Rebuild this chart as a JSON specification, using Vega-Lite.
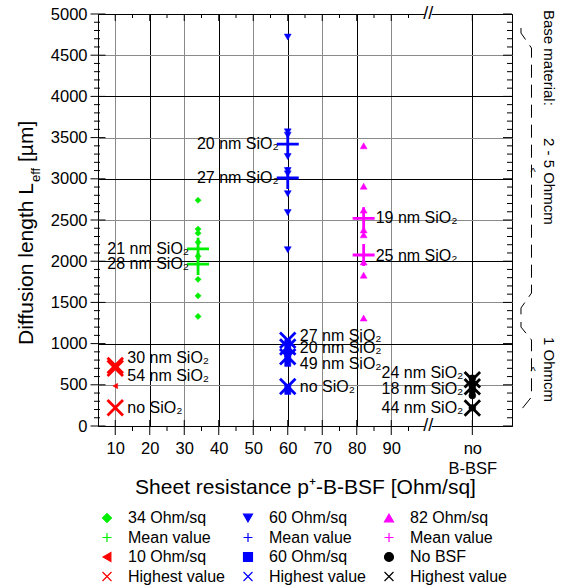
{
  "$schema": "https://vega.github.io/schema/vega-lite/v6.json",
  "width": 414,
  "height": 412,
  "autosize": {"type": "none"},
  "padding": {"left": 98, "top": 14, "right": 58, "bottom": 162},
  "background": "white",
  "config": {
    "view": {"stroke": "#000000", "strokeWidth": 1},
    "font": "Liberation Sans",
    "text": {"font": "Liberation Sans", "color": "#000000"},
    "axis": {"labelFont": "Liberation Sans", "titleFont": "Liberation Sans", "labelColor": "#000000", "titleColor": "#000000"}
  },
  "datasets": {
    "pts": [
      {"x": 34, "y": 2740, "series": "g34"}, {"x": 34, "y": 2390, "series": "g34"}, {"x": 34, "y": 2340, "series": "g34"},
      {"x": 34, "y": 2230, "series": "g34"}, {"x": 34, "y": 2060, "series": "g34"}, {"x": 34, "y": 1780, "series": "g34"},
      {"x": 34, "y": 1580, "series": "g34"}, {"x": 34, "y": 1330, "series": "g34"},
      {"x": 60, "y": 4720, "series": "b60"}, {"x": 60, "y": 3570, "series": "b60"}, {"x": 60, "y": 3530, "series": "b60"},
      {"x": 60, "y": 3270, "series": "b60"}, {"x": 60, "y": 3100, "series": "b60"}, {"x": 60, "y": 3060, "series": "b60"},
      {"x": 60, "y": 2820, "series": "b60"}, {"x": 60, "y": 2590, "series": "b60"}, {"x": 60, "y": 2140, "series": "b60"},
      {"x": 82, "y": 3400, "series": "m82"}, {"x": 82, "y": 2910, "series": "m82"}, {"x": 82, "y": 2620, "series": "m82"},
      {"x": 82, "y": 2380, "series": "m82"}, {"x": 82, "y": 2320, "series": "m82"}, {"x": 82, "y": 1990, "series": "m82"},
      {"x": 82, "y": 1830, "series": "m82"}, {"x": 82, "y": 1310, "series": "m82"},
      {"x": 10, "y": 485, "series": "r10"},
      {"x": 60, "y": 1010, "series": "bsq"}, {"x": 60, "y": 940, "series": "bsq"}, {"x": 60, "y": 880, "series": "bsq"},
      {"x": 60, "y": 820, "series": "bsq"}, {"x": 60, "y": 760, "series": "bsq"}, {"x": 60, "y": 470, "series": "bsq"},
      {"x": 60, "y": 420, "series": "bsq"},
      {"x": 113.5, "y": 580, "series": "knobsf"}, {"x": 113.5, "y": 520, "series": "knobsf"}, {"x": 113.5, "y": 480, "series": "knobsf"},
      {"x": 113.5, "y": 430, "series": "knobsf"}, {"x": 113.5, "y": 370, "series": "knobsf"}, {"x": 113.5, "y": 220, "series": "knobsf"},
      {"x": 34, "y": 2150, "series": "gmean"}, {"x": 34, "y": 1965, "series": "gmean"},
      {"x": 60, "y": 3420, "series": "bmean"}, {"x": 60, "y": 3010, "series": "bmean"},
      {"x": 82, "y": 2520, "series": "mmean"}, {"x": 82, "y": 2075, "series": "mmean"},
      {"x": 10, "y": 735, "series": "rhigh"}, {"x": 10, "y": 700, "series": "rhigh"}, {"x": 10, "y": 222, "series": "rhigh"},
      {"x": 60, "y": 1040, "series": "bhigh"}, {"x": 60, "y": 960, "series": "bhigh"}, {"x": 60, "y": 840, "series": "bhigh"},
      {"x": 60, "y": 480, "series": "bhigh"},
      {"x": 113.5, "y": 560, "series": "khigh"}, {"x": 113.5, "y": 475, "series": "khigh"}, {"x": 113.5, "y": 218, "series": "khigh"}
    ],
    "labsR": [
      {"x": 60, "y": 3420, "label": "20 nm SiO₂"},
      {"x": 60, "y": 3010, "label": "27 nm SiO₂"},
      {"x": 34, "y": 2150, "label": "21 nm SiO₂"},
      {"x": 34, "y": 1960, "label": "28 nm SiO₂"},
      {"x": 113.5, "y": 640, "label": "24 nm SiO₂"},
      {"x": 113.5, "y": 445, "label": "18 nm SiO₂"},
      {"x": 113.5, "y": 222, "label": "44 nm SiO₂"}
    ],
    "labsL": [
      {"x": 10, "y": 830, "label": "30 nm SiO₂"},
      {"x": 10, "y": 610, "label": "54 nm SiO₂"},
      {"x": 10, "y": 222, "label": "no SiO₂"},
      {"x": 60, "y": 1090, "label": "27 nm SiO₂"},
      {"x": 60, "y": 943, "label": "20 nm SiO₂"},
      {"x": 60, "y": 752, "label": "49 nm SiO₂"},
      {"x": 60, "y": 477, "label": "no SiO₂"},
      {"x": 82, "y": 2520, "label": "19 nm SiO₂"},
      {"x": 82, "y": 2063, "label": "25 nm SiO₂"}
    ],
    "ymaj": [{"v": 0}, {"v": 500}, {"v": 1000}, {"v": 1500}, {"v": 2000}, {"v": 2500}, {"v": 3000}, {"v": 3500}, {"v": 4000}, {"v": 4500}, {"v": 5000}],
    "ymin": [{"v": 100}, {"v": 200}, {"v": 300}, {"v": 400}, {"v": 600}, {"v": 700}, {"v": 800}, {"v": 900},
      {"v": 1100}, {"v": 1200}, {"v": 1300}, {"v": 1400}, {"v": 1600}, {"v": 1700}, {"v": 1800}, {"v": 1900},
      {"v": 2100}, {"v": 2200}, {"v": 2300}, {"v": 2400}, {"v": 2600}, {"v": 2700}, {"v": 2800}, {"v": 2900},
      {"v": 3100}, {"v": 3200}, {"v": 3300}, {"v": 3400}, {"v": 3600}, {"v": 3700}, {"v": 3800}, {"v": 3900},
      {"v": 4100}, {"v": 4200}, {"v": 4300}, {"v": 4400}, {"v": 4600}, {"v": 4700}, {"v": 4800}, {"v": 4900}],
    "xmaj": [{"v": 10}, {"v": 20}, {"v": 30}, {"v": 40}, {"v": 50}, {"v": 60}, {"v": 70}, {"v": 80}, {"v": 90}, {"v": 113.5}],
    "xmin": [{"v": 15}, {"v": 25}, {"v": 35}, {"v": 45}, {"v": 55}, {"v": 65}, {"v": 75}, {"v": 85}, {"v": 95}],
    "brk": [{"y": 0}, {"y": 5000}],
    "brace": [
      {"b": 1, "i": 0, "x": 127.6, "y": 4830}, {"b": 1, "i": 1, "x": 127.6, "y": 4769}, {"b": 1, "i": 2, "x": 130.65, "y": 4587},
      {"b": 1, "i": 3, "x": 130.65, "y": 1614}, {"b": 1, "i": 4, "x": 127.6, "y": 1432}, {"b": 1, "i": 5, "x": 127.6, "y": 1347},
      {"b": 2, "i": 0, "x": 127.6, "y": 1262}, {"b": 2, "i": 1, "x": 127.6, "y": 1201}, {"b": 2, "i": 2, "x": 130.65, "y": 1044},
      {"b": 2, "i": 3, "x": 130.65, "y": 352}, {"b": 2, "i": 4, "x": 127.6, "y": 194}, {"b": 2, "i": 5, "x": 127.6, "y": 146}
    ],
    "caret": [{"y": 3070}, {"y": 655}],
    "base": [{"t": "Base material:", "y": 5049}, {"t": "2 - 5 Ohmcm", "y": 3495}, {"t": "1 Ohmcm", "y": 1080}]
  },
  "layer": [
    {
      "data": {"name": "pts"},
      "mark": {"type": "point", "opacity": 1},
      "encoding": {
        "x": {"field": "x", "type": "quantitative", "scale": {"domain": [5, 125], "nice": false, "zero": false},
          "axis": {"values": [10, 20, 30, 40, 50, 60, 70, 80, 90, 113.5],
            "labelExpr": "datum.value > 100 ? ['no', 'B-BSF'] : datum.label",
            "title": "Sheet resistance p⁺-B-BSF [Ohm/sq]", "titleFontSize": 21, "titleFontWeight": "normal",
            "titleY": 67, "titleBaseline": "alphabetic",
            "grid": true, "gridColor": {"condition": {"test": "datum.value % 20 == 0 || datum.value > 100", "value": "#000000"}, "value": "#8a8a8a"},
            "ticks": false, "tickSize": 0, "domain": false, "labelPadding": 14, "labelFontSize": 16.5,
            "labelLineHeight": 20, "labelFlush": false, "labelOverlap": false}},
        "y": {"field": "y", "type": "quantitative", "scale": {"domain": [0, 5000], "nice": false, "zero": false},
          "axis": {"values": [0, 500, 1000, 1500, 2000, 2500, 3000, 3500, 4000, 4500, 5000], "title": null, "format": "d",
            "grid": true, "gridColor": {"condition": {"test": "datum.value % 1000 == 0", "value": "#000000"}, "value": "#8a8a8a"},
            "ticks": false, "tickSize": 0, "domain": false, "labelPadding": 11, "labelFontSize": 16.5,
            "labelFlush": false, "labelOverlap": false}},
        "shape": {"field": "series", "type": "nominal",
          "scale": {"domain": ["g34", "gmean", "r10", "rhigh", "b60", "bmean", "bsq", "bhigh", "m82", "mmean", "knobsf", "khigh"],
            "range": ["diamond", "M-1,0H1M0,-1V1", "triangle-left", "M-1,-1L1,1M-1,1L1,-1", "triangle-down", "M-1,0H1M0,-1V1", "square", "M-1,-1L1,1M-1,1L1,-1", "triangle-up", "M-1,0H1M0,-1V1", "circle", "M-1,-1L1,1M-1,1L1,-1"]},
          "legend": {"title": null, "orient": "none", "legendX": 1, "legendY": 496, "columns": 3, "gridAlign": "all", "symbolSize": 80, "symbolStrokeWidth": 1.2,
            "labelFontSize": 16, "labelFont": "Liberation Sans", "labelOffset": 13, "columnPadding": 15, "rowPadding": 3.5, "padding": 0,
            "labelExpr": "datum.label == 'g34' ? '34 Ohm/sq' : datum.label == 'b60' ? '60 Ohm/sq' : datum.label == 'm82' ? '82 Ohm/sq' : datum.label == 'r10' ? '10 Ohm/sq' : datum.label == 'bsq' ? '60 Ohm/sq' : datum.label == 'knobsf' ? 'No BSF' : indexof(datum.label, 'mean') >= 0 ? 'Mean value' : 'Highest value'"}},
        "fill": {"field": "series", "type": "nominal",
          "scale": {"domain": ["g34", "gmean", "r10", "rhigh", "b60", "bmean", "bsq", "bhigh", "m82", "mmean", "knobsf", "khigh"],
            "range": ["#00ee00", "transparent", "#ff0000", "transparent", "#0000ff", "transparent", "#0000ff", "transparent", "#ff00ff", "transparent", "#000000", "transparent"]},
          "legend": {"title": null, "orient": "none", "legendX": 1, "legendY": 496, "columns": 3, "gridAlign": "all", "symbolSize": 80, "symbolStrokeWidth": 1.2,
            "labelFontSize": 16, "labelFont": "Liberation Sans", "labelOffset": 13, "columnPadding": 15, "rowPadding": 3.5, "padding": 0,
            "labelExpr": "datum.label == 'g34' ? '34 Ohm/sq' : datum.label == 'b60' ? '60 Ohm/sq' : datum.label == 'm82' ? '82 Ohm/sq' : datum.label == 'r10' ? '10 Ohm/sq' : datum.label == 'bsq' ? '60 Ohm/sq' : datum.label == 'knobsf' ? 'No BSF' : indexof(datum.label, 'mean') >= 0 ? 'Mean value' : 'Highest value'"}},
        "stroke": {"field": "series", "type": "nominal",
          "scale": {"domain": ["g34", "gmean", "r10", "rhigh", "b60", "bmean", "bsq", "bhigh", "m82", "mmean", "knobsf", "khigh"],
            "range": ["#00ee00", "#00ee00", "#ff0000", "#ff0000", "#0000ff", "#0000ff", "#0000ff", "#0000ff", "#ff00ff", "#ff00ff", "#000000", "#000000"]},
          "legend": {"title": null, "orient": "none", "legendX": 1, "legendY": 496, "columns": 3, "gridAlign": "all", "symbolSize": 80, "symbolStrokeWidth": 1.2,
            "labelFontSize": 16, "labelFont": "Liberation Sans", "labelOffset": 13, "columnPadding": 15, "rowPadding": 3.5, "padding": 0,
            "labelExpr": "datum.label == 'g34' ? '34 Ohm/sq' : datum.label == 'b60' ? '60 Ohm/sq' : datum.label == 'm82' ? '82 Ohm/sq' : datum.label == 'r10' ? '10 Ohm/sq' : datum.label == 'bsq' ? '60 Ohm/sq' : datum.label == 'knobsf' ? 'No BSF' : indexof(datum.label, 'mean') >= 0 ? 'Mean value' : 'Highest value'"}},
        "size": {"condition": [
            {"test": "indexof(['gmean','bmean','mmean'], datum.series) >= 0", "value": 484},
            {"test": "indexof(['rhigh','bhigh','khigh'], datum.series) >= 0", "value": 240},
            {"test": "datum.series == 'r10'", "value": 30},
            {"test": "datum.series == 'g34' || datum.series == 'bsq'", "value": 38}
          ], "value": 48},
        "strokeWidth": {"condition": [
            {"test": "indexof(['gmean','bmean','mmean','rhigh','bhigh','khigh'], datum.series) >= 0", "value": 2.8}
          ], "value": 0.5}
      }
    },
    {
      "data": {"name": "labsR"},
      "mark": {"type": "text", "align": "right", "baseline": "middle", "dx": -9, "fontSize": 16},
      "encoding": {
        "x": {"field": "x", "type": "quantitative", "scale": {"domain": [5, 125], "nice": false, "zero": false}},
        "y": {"field": "y", "type": "quantitative", "scale": {"domain": [0, 5000], "nice": false, "zero": false}},
        "text": {"field": "label", "type": "nominal"}
      }
    },
    {
      "data": {"name": "labsL"},
      "mark": {"type": "text", "align": "left", "baseline": "middle", "dx": 12, "fontSize": 16},
      "encoding": {
        "x": {"field": "x", "type": "quantitative", "scale": {"domain": [5, 125], "nice": false, "zero": false}},
        "y": {"field": "y", "type": "quantitative", "scale": {"domain": [0, 5000], "nice": false, "zero": false}},
        "text": {"field": "label", "type": "nominal"}
      }
    },
    {
      "data": {"name": "ymaj"},
      "mark": {"type": "tick", "orient": "horizontal", "size": 15, "thickness": 1, "color": "#000000", "opacity": 1},
      "encoding": {
        "x": {"datum": 5, "type": "quantitative", "scale": {"domain": [5, 125], "nice": false, "zero": false}},
        "y": {"field": "v", "type": "quantitative", "scale": {"domain": [0, 5000], "nice": false, "zero": false}}
      }
    },
    {
      "data": {"name": "ymin"},
      "mark": {"type": "tick", "orient": "horizontal", "size": 6, "thickness": 1, "color": "#000000", "opacity": 1, "xOffset": -1},
      "encoding": {
        "x": {"datum": 5, "type": "quantitative", "scale": {"domain": [5, 125], "nice": false, "zero": false}},
        "y": {"field": "v", "type": "quantitative", "scale": {"domain": [0, 5000], "nice": false, "zero": false}}
      }
    },
    {
      "data": {"name": "ymaj"},
      "mark": {"type": "tick", "orient": "horizontal", "size": 9, "thickness": 1, "color": "#000000", "opacity": 1, "xOffset": -4.5},
      "encoding": {
        "x": {"datum": 125, "type": "quantitative", "scale": {"domain": [5, 125], "nice": false, "zero": false}},
        "y": {"field": "v", "type": "quantitative", "scale": {"domain": [0, 5000], "nice": false, "zero": false}}
      }
    },
    {
      "data": {"name": "ymin"},
      "mark": {"type": "tick", "orient": "horizontal", "size": 5, "thickness": 1, "color": "#000000", "opacity": 1, "xOffset": -2.5},
      "encoding": {
        "x": {"datum": 125, "type": "quantitative", "scale": {"domain": [5, 125], "nice": false, "zero": false}},
        "y": {"field": "v", "type": "quantitative", "scale": {"domain": [0, 5000], "nice": false, "zero": false}}
      }
    },
    {
      "data": {"name": "xmaj"},
      "mark": {"type": "tick", "orient": "vertical", "size": 15, "thickness": 1, "color": "#000000", "opacity": 1, "yOffset": 1.5},
      "encoding": {
        "x": {"field": "v", "type": "quantitative", "scale": {"domain": [5, 125], "nice": false, "zero": false}},
        "y": {"datum": 0, "type": "quantitative", "scale": {"domain": [0, 5000], "nice": false, "zero": false}}
      }
    },
    {
      "data": {"name": "xmin"},
      "mark": {"type": "tick", "orient": "vertical", "size": 5, "thickness": 1, "color": "#000000", "opacity": 1, "yOffset": 2.5},
      "encoding": {
        "x": {"field": "v", "type": "quantitative", "scale": {"domain": [5, 125], "nice": false, "zero": false}},
        "y": {"datum": 0, "type": "quantitative", "scale": {"domain": [0, 5000], "nice": false, "zero": false}}
      }
    },
    {
      "data": {"name": "xmaj"},
      "mark": {"type": "tick", "orient": "vertical", "size": 7, "thickness": 1, "color": "#000000", "opacity": 1, "yOffset": 3.5},
      "encoding": {
        "x": {"field": "v", "type": "quantitative", "scale": {"domain": [5, 125], "nice": false, "zero": false}},
        "y": {"datum": 5000, "type": "quantitative", "scale": {"domain": [0, 5000], "nice": false, "zero": false}}
      }
    },
    {
      "data": {"name": "xmin"},
      "mark": {"type": "tick", "orient": "vertical", "size": 4, "thickness": 1, "color": "#000000", "opacity": 1, "yOffset": 2},
      "encoding": {
        "x": {"field": "v", "type": "quantitative", "scale": {"domain": [5, 125], "nice": false, "zero": false}},
        "y": {"datum": 5000, "type": "quantitative", "scale": {"domain": [0, 5000], "nice": false, "zero": false}}
      }
    },
    {
      "data": {"name": "brk"},
      "mark": {"type": "tick", "orient": "horizontal", "size": 7, "thickness": 4, "color": "#ffffff", "opacity": 1},
      "encoding": {
        "x": {"datum": 100.7, "type": "quantitative", "scale": {"domain": [5, 125], "nice": false, "zero": false}},
        "y": {"field": "y", "type": "quantitative", "scale": {"domain": [0, 5000], "nice": false, "zero": false}}
      }
    },
    {
      "data": {"name": "brk"},
      "mark": {"type": "text", "align": "center", "baseline": "middle", "fontSize": 18, "text": "//"},
      "encoding": {
        "x": {"datum": 100.7, "type": "quantitative", "scale": {"domain": [5, 125], "nice": false, "zero": false}},
        "y": {"field": "y", "type": "quantitative", "scale": {"domain": [0, 5000], "nice": false, "zero": false}}
      }
    },
    {
      "data": {"name": "brace"},
      "mark": {"type": "line", "color": "#000000", "strokeWidth": 1, "strokeDash": [13, 7], "clip": false},
      "encoding": {
        "x": {"field": "x", "type": "quantitative", "scale": {"domain": [5, 125], "nice": false, "zero": false}},
        "y": {"field": "y", "type": "quantitative", "scale": {"domain": [0, 5000], "nice": false, "zero": false}},
        "order": {"field": "i", "type": "quantitative"},
        "detail": {"field": "b", "type": "nominal"}
      }
    },
    {
      "data": {"name": "caret"},
      "mark": {"type": "text", "align": "center", "baseline": "middle", "fontSize": 11, "text": "^"},
      "encoding": {
        "x": {"datum": 131.1, "type": "quantitative", "scale": {"domain": [5, 125], "nice": false, "zero": false}},
        "y": {"field": "y", "type": "quantitative", "scale": {"domain": [0, 5000], "nice": false, "zero": false}}
      }
    },
    {
      "data": {"name": "base"},
      "mark": {"type": "text", "align": "left", "baseline": "alphabetic", "angle": 90, "fontSize": 15},
      "encoding": {
        "x": {"datum": 134.4, "type": "quantitative", "scale": {"domain": [5, 125], "nice": false, "zero": false}},
        "y": {"field": "y", "type": "quantitative", "scale": {"domain": [0, 5000], "nice": false, "zero": false}},
        "text": {"field": "t", "type": "nominal"}
      }
    },
    {
      "data": {"values": [{}]},
      "mark": {"type": "text", "align": "right", "baseline": "alphabetic", "angle": 270, "fontSize": 21, "text": "Diffusion length L"},
      "encoding": {
        "x": {"datum": -13.84, "type": "quantitative", "scale": {"domain": [5, 125], "nice": false, "zero": false}},
        "y": {"datum": 2949, "type": "quantitative", "scale": {"domain": [0, 5000], "nice": false, "zero": false}}
      }
    },
    {
      "data": {"values": [{}]},
      "mark": {"type": "text", "align": "left", "baseline": "alphabetic", "angle": 270, "fontSize": 13, "text": "eff"},
      "encoding": {
        "x": {"datum": -11.8, "type": "quantitative", "scale": {"domain": [5, 125], "nice": false, "zero": false}},
        "y": {"datum": 2961, "type": "quantitative", "scale": {"domain": [0, 5000], "nice": false, "zero": false}}
      }
    },
    {
      "data": {"values": [{}]},
      "mark": {"type": "text", "align": "left", "baseline": "alphabetic", "angle": 270, "fontSize": 21, "text": "[µm]"},
      "encoding": {
        "x": {"datum": -13.84, "type": "quantitative", "scale": {"domain": [5, 125], "nice": false, "zero": false}},
        "y": {"datum": 3204, "type": "quantitative", "scale": {"domain": [0, 5000], "nice": false, "zero": false}}
      }
    }
  ]
}
